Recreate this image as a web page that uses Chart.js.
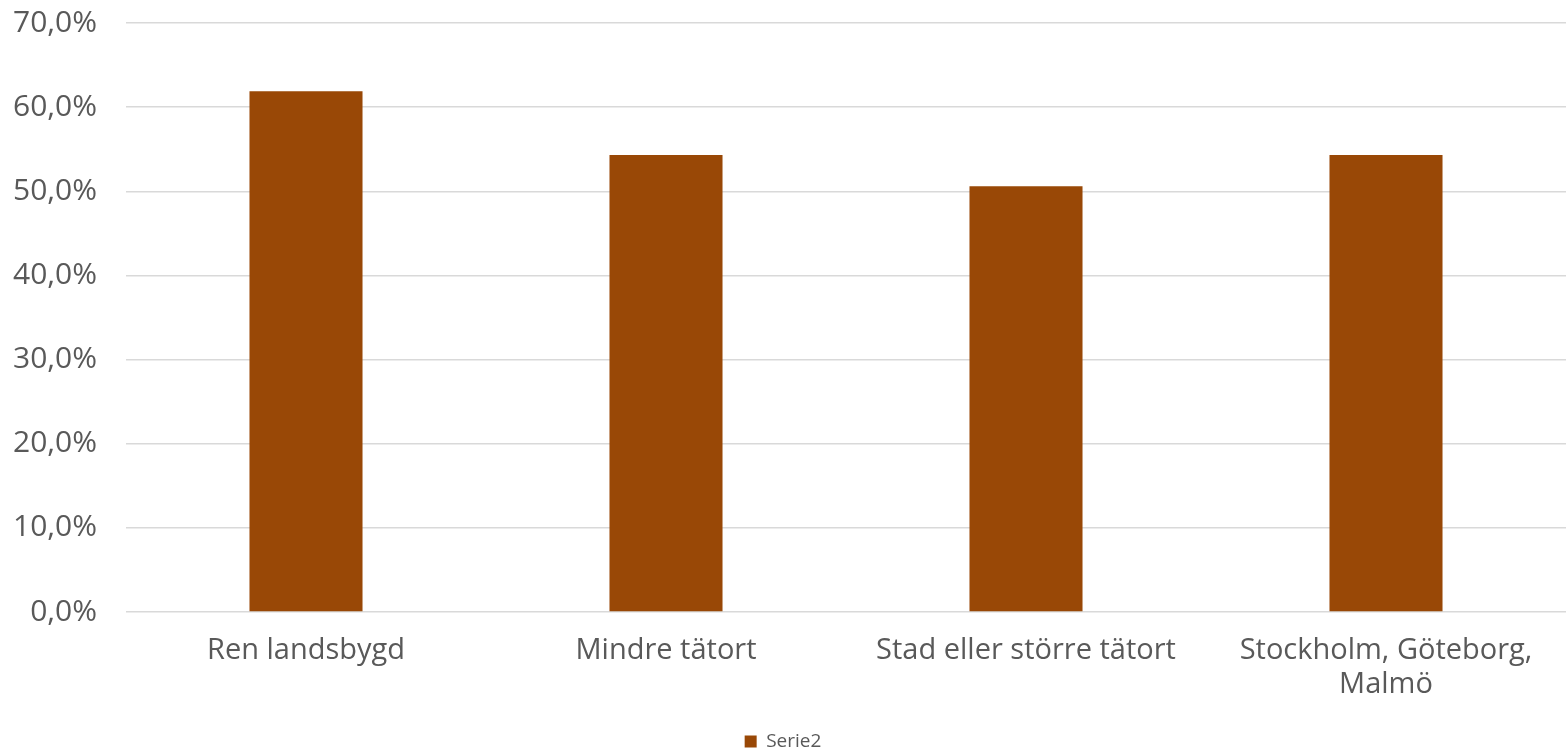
<!DOCTYPE html>
<html>
<head>
<meta charset="utf-8">
<script src="https://cdn.jsdelivr.net/npm/chart.js@4/dist/chart.umd.min.js"></script>
<style>
  html, body { margin: 0; padding: 0; background: #fff; }
  #wrap { width: 1566px; height: 750px; position: relative; }
</style>
</head>
<body>
<div id="wrap"><canvas id="c"></canvas></div>
<script>
// Andel per boendeort (procent)
const categories = ['Ren landsbygd', 'Mindre tätort', 'Stad eller större tätort', ['Stockholm, Göteborg,', 'Malmö']];
const serie2 = [61.9, 54.3, 50.6, 54.3];
const seriesName = 'Serie2';

const BAR = '#994806';
const TEXT = '#595959';
const GRID = '#d9d9d9';
const FONT = '"Open Sans", "Noto Sans", sans-serif';

// 12,3 -> "12,3%"
const pct = v => v.toFixed(1).replace('.', ',') + '%';

new Chart(document.getElementById('c'), {
  type: 'bar',
  data: {
    labels: categories,
    datasets: [{
      label: seriesName,
      data: serie2,
      backgroundColor: BAR,
      barPercentage: 0.314,
      categoryPercentage: 1.0,
    }],
  },
  options: {
    responsive: true,
    maintainAspectRatio: false,
    animation: false,
    layout: { padding: { top: 23, right: 0, bottom: 0, left: 0 } },
    scales: {
      x: {
        grid: { display: false },
        border: { display: false },
        ticks: { color: TEXT, font: { family: FONT, size: 29, lineHeight: 1.17 }, padding: 14, maxRotation: 0, autoSkip: false },
        afterFit: s => { s.height = 120; },
      },
      y: {
        min: 0,
        max: 70,
        ticks: { stepSize: 10, color: TEXT, font: { family: FONT, size: 30 }, padding: 29, callback: v => pct(v) },
        grid: { color: GRID, lineWidth: 1.5, drawTicks: false },
        border: { display: false },
        afterFit: s => { s.width = 126; s.paddingTop = 0; s.paddingBottom = 0; },
      },
    },
    plugins: {
      legend: {
        position: 'bottom',
        maxHeight: 18,
        labels: { color: TEXT, font: { family: FONT, size: 19 }, boxWidth: 12, boxHeight: 12, padding: 0 },
      },
      tooltip: { enabled: false },
    },
  },
});
</script>
</body>
</html>
